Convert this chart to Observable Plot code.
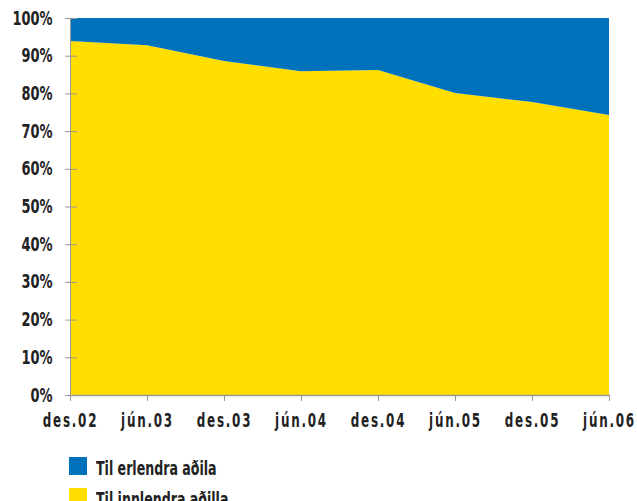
<!DOCTYPE html>
<html>
<head>
<meta charset="utf-8">
<script src="https://cdn.jsdelivr.net/npm/d3@7"></script>
<script src="https://cdn.jsdelivr.net/npm/@observablehq/plot@0.6"></script>
<style>
  body { margin: 0; background: #fff; font-family: "DejaVu Sans Condensed", "DejaVu Sans", sans-serif; }
  #chart svg { display: block; }
  .legend { margin-left: 69px; margin-top: 10px; }
  .legend .row { display: flex; align-items: center; height: 31px; }
  .legend .sw { width: 18px; height: 18px; margin-right: 9px; flex: none; }
  .legend .lab { display: inline-block; font-size: 20px; font-weight: bold; color: #222;
                 transform: scaleX(0.7); transform-origin: left center; white-space: nowrap;
                 position: relative; top: 2px; }
</style>
</head>
<body>
<div id="chart"></div>
<div class="legend" id="legend"></div>
<script>
// Half-year periods
const periods = ["des.02", "jún.03", "des.03", "jún.04", "des.04", "jún.05", "des.05", "jún.06"];
// Share held by domestic parties (%)
const innlendra = [93.9, 92.8, 88.6, 85.9, 86.2, 80.1, 77.7, 74.3];
// Share held by foreign parties (%)
const erlendra = [6.1, 7.2, 11.4, 14.1, 13.8, 19.9, 22.3, 25.7];
const seriesNames = ["Til innlendra aðilla", "Til erlendra aðila"];
const seriesColors = ["#FFDE00", "#0072BC"];
const yTicks = [0, 10, 20, 30, 40, 50, 60, 70, 80, 90, 100];

const rows = [];
periods.forEach((p, i) => rows.push({period: p, series: seriesNames[0], value: innlendra[i]}));
periods.forEach((p, i) => rows.push({period: p, series: seriesNames[1], value: erlendra[i]}));

const font = `"DejaVu Sans Condensed", "DejaVu Sans", sans-serif`;

const chart = Plot.plot({
  width: 637,
  height: 440,
  marginLeft: 69,
  marginRight: 27,
  marginTop: 18,
  marginBottom: 45,
  style: {fontFamily: font, fontSize: "19px", fontWeight: "bold", color: "#222", background: "#fff"},
  x: {type: "point", domain: periods, padding: 0},
  y: {domain: [0, 100], ticks: yTicks},
  color: {domain: seriesNames, range: seriesColors},
  marks: [
    Plot.areaY(rows, {x: "period", y: "value", fill: "series", z: "series"}),
    Plot.axisY({ticks: yTicks, tickSize: 4, tickPadding: 13, tickFormat: d => d + "%", label: null, stroke: "#999", fill: "#222", className: "ylab"}),
    Plot.axisY({ticks: yTicks, tickSize: -8, text: null, label: null, stroke: "#999"}),
    Plot.ruleX([periods[0]], {stroke: "#999", strokeWidth: 1}),
    Plot.axisX({tickSize: 6, tickPadding: 12, label: null, stroke: "#999", fill: "#222", className: "xlab"}),
    Plot.ruleY([0], {stroke: "#999", strokeWidth: 1.5})
  ]
});
document.getElementById("chart").appendChild(chart);

// Narrow the axis labels to a condensed width (horizontal scale about each label's anchor)
chart.querySelectorAll("text").forEach(t => {
  const isX = t.closest(".xlab") !== null;
  if (isX) t.setAttribute("letter-spacing", "2.5");
  const k = isX ? 0.7 : 0.76;
  const tr = t.getAttribute("transform") || "";
  t.setAttribute("transform", `${tr} scale(${k},1)`.trim());
});

// Legend: foreign first, then domestic
const legend = document.getElementById("legend");
[1, 0].forEach(i => {
  const row = document.createElement("div");
  row.className = "row";
  row.innerHTML = `<div class="sw" style="background:${seriesColors[i]}"></div><span class="lab">${seriesNames[i]}</span>`;
  legend.appendChild(row);
});
</script>
</body>
</html>
